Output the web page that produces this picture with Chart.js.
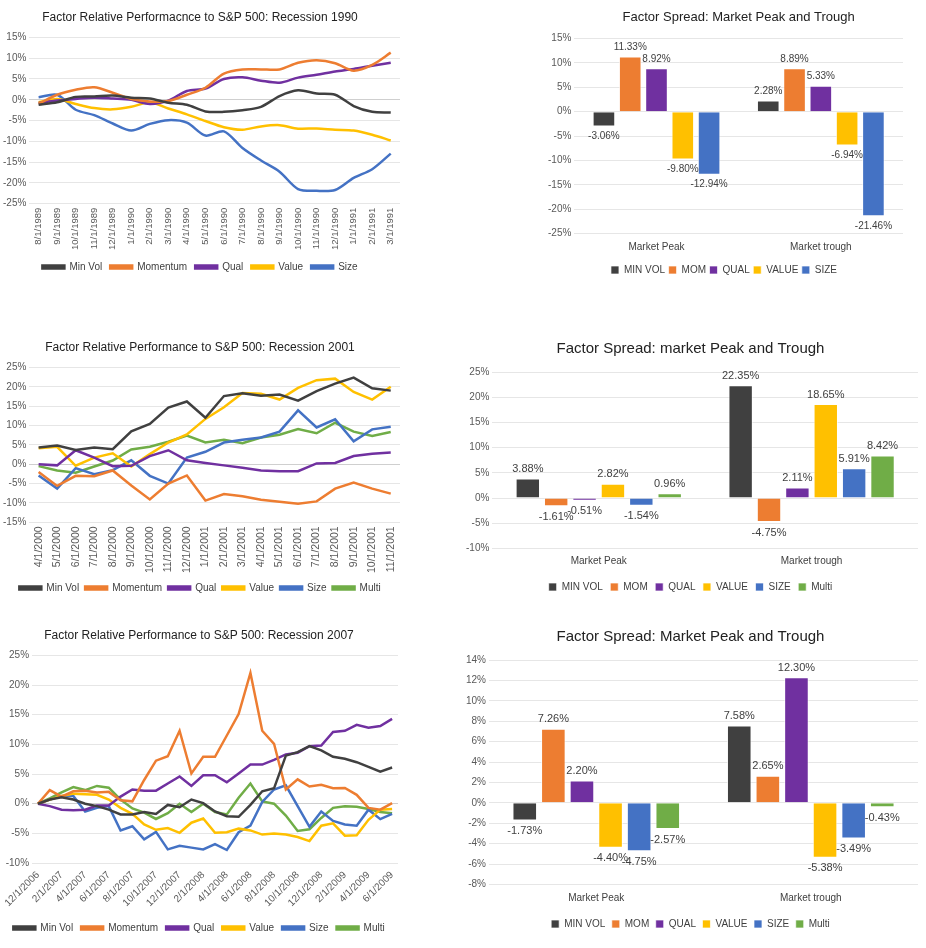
<!DOCTYPE html>
<html>
<head>
<meta charset="utf-8">
<script src="https://cdn.jsdelivr.net/npm/chart.js@4.4.1/dist/chart.umd.min.js"></script>
<style>
  body { margin: 0; background: #fff; }
  .panel { position: absolute; }
</style>
</head>
<body>
<div class="panel" style="left:0;top:0;width:410px;height:285px"><canvas id="line1990"></canvas></div>
<div class="panel" style="left:540px;top:0;width:371px;height:291px"><canvas id="bar1990"></canvas></div>
<div class="panel" style="left:0;top:330px;width:410px;height:275px"><canvas id="line2001"></canvas></div>
<div class="panel" style="left:461px;top:330px;width:465px;height:274px"><canvas id="bar2001"></canvas></div>
<div class="panel" style="left:0;top:618px;width:410px;height:329px"><canvas id="line2007"></canvas></div>
<div class="panel" style="left:461px;top:618px;width:465px;height:325px"><canvas id="bar2007"></canvas></div>
<script>
// ---- data ----
const lineNames = ['Min Vol', 'Momentum', 'Qual', 'Value', 'Size', 'Multi'];
const barNames = ['MIN VOL', 'MOM', 'QUAL', 'VALUE', 'SIZE', 'Multi'];
const spreadCats = ['Market Peak', 'Market trough'];

const dates1990 = ['8/1/1989', '9/1/1989', '10/1/1989', '11/1/1989', '12/1/1989', '1/1/1990', '2/1/1990',
  '3/1/1990', '4/1/1990', '5/1/1990', '6/1/1990', '7/1/1990', '8/1/1990', '9/1/1990', '10/1/1990',
  '11/1/1990', '12/1/1990', '1/1/1991', '2/1/1991', '3/1/1991'];
const minVol1990 = [-1.2, -0.6, 0.7, 0.8, 1.0, 0.5, 0.3, -0.7, -1.2, -2.8, -2.9, -2.5, -1.7, 0.9, 2.28, 1.5, 1.2, -1.5, -2.9, -3.06];
const mom1990 = [-1.0, 1.2, 2.4, 3.0, 1.7, 0.2, -0.4, -0.3, 1.2, 2.9, 6.3, 7.3, 7.3, 7.3, 8.89, 9.5, 8.8, 7.0, 8.4, 11.33];
const qual1990 = [-0.8, -0.2, 0.2, 0.5, 0.3, 0.0, -1.0, -0.2, 2.1, 2.7, 5.0, 5.4, 4.6, 4.1, 5.33, 6.0, 6.8, 7.4, 8.2, 8.92];
const value1990 = [-0.6, 0.2, -1.0, -2.0, -2.3, -1.7, -0.6, -2.1, -3.5, -5.1, -6.6, -7.2, -6.4, -6.1, -6.94, -6.9, -7.2, -7.4, -8.4, -9.80];
const size1990 = [0.6, 1.2, -2.4, -3.7, -5.7, -7.4, -5.8, -4.9, -5.5, -8.6, -7.6, -11.6, -14.6, -17.3, -21.46, -21.9, -21.7, -18.8, -16.7, -12.94];

const dates2001 = ['4/1/2000', '5/1/2000', '6/1/2000', '7/1/2000', '8/1/2000', '9/1/2000', '10/1/2000',
  '11/1/2000', '12/1/2000', '1/1/2001', '2/1/2001', '3/1/2001', '4/1/2001', '5/1/2001', '6/1/2001',
  '7/1/2001', '8/1/2001', '9/1/2001', '10/1/2001', '11/1/2001'];
const minVol2001 = [4.3, 4.8, 3.7, 4.3, 3.88, 8.5, 10.4, 14.6, 16.2, 12.0, 17.6, 18.3, 17.7, 18.0, 16.4, 18.9, 20.8, 22.35, 19.6, 19.0];
const mom2001 = [-2.0, -5.6, -3.0, -3.1, -1.61, -5.5, -9.1, -5.0, -2.9, -9.4, -7.7, -8.3, -9.2, -9.7, -10.2, -9.6, -6.3, -4.75, -6.3, -7.6];
const qual2001 = [0.0, -0.3, 3.6, 1.7, -0.51, -0.4, 2.1, 3.6, 1.0, 0.3, -0.3, -0.9, -1.6, -1.8, -1.8, 0.2, 0.3, 2.11, 2.7, 3.0];
const value2001 = [4.1, 4.5, -0.4, 1.7, 2.82, -0.6, 2.6, 5.6, 7.7, 11.7, 14.7, 18.4, 18.2, 16.7, 19.7, 21.7, 22.1, 18.65, 16.7, 20.0];
const size2001 = [-2.9, -6.3, -1.0, -2.6, -1.54, 1.0, -3.0, -5.0, 1.7, 3.2, 5.6, 6.3, 6.9, 8.4, 13.9, 9.5, 11.6, 5.91, 9.0, 9.7];
const multi2001 = [-0.5, -1.6, -2.2, -0.6, 0.96, 3.8, 4.5, 5.8, 7.4, 5.6, 6.3, 5.4, 6.9, 7.6, 9.1, 8.0, 10.7, 8.42, 7.3, 8.3];

const dates2007 = ['12/1/2006', '1/1/2007', '2/1/2007', '3/1/2007', '4/1/2007', '5/1/2007', '6/1/2007',
  '7/1/2007', '8/1/2007', '9/1/2007', '10/1/2007', '11/1/2007', '12/1/2007', '1/1/2008', '2/1/2008',
  '3/1/2008', '4/1/2008', '5/1/2008', '6/1/2008', '7/1/2008', '8/1/2008', '9/1/2008', '10/1/2008',
  '11/1/2008', '12/1/2008', '1/1/2009', '2/1/2009', '3/1/2009', '4/1/2009', '5/1/2009', '6/1/2009'];
const minVol2007 = [0, 0.7, 1.1, 0.7, 0, -0.4, -1.0, -1.8, -1.8, -1.4, -1.73, -0.2, -0.6, 0.7, 0.1, -1.3, -2.1, -2.2, -0.2, 2.1, 2.6, 8.1, 8.7, 9.7, 9.0, 7.9, 7.58, 7.0, 6.2, 5.4, 6.1];
const mom2007 = [0, 2.3, 1.2, 2.1, 2.2, 1.9, 2.0, 0.6, 0.4, 4.0, 7.26, 8.0, 12.3, 5.1, 7.9, 7.9, 11.5, 15.1, 22.05, 12.3, 10.1, 2.4, 4.1, 2.9, 3.2, 2.6, 2.65, 1.5, -0.7, -1.0, 0.1];
const qual2007 = [0, -0.4, -1.0, -1.1, -1.0, -0.3, -0.3, 1.2, 2.4, 2.2, 2.20, 3.4, 4.6, 3.0, 4.8, 4.8, 3.6, 5.1, 6.6, 6.6, 7.4, 8.3, 8.6, 9.7, 9.8, 12.1, 12.30, 13.3, 12.8, 13.1, 14.3];
const value2007 = [0, 0.7, 1.3, 1.7, 1.6, 1.5, 0.7, -0.7, -1.7, -3.5, -4.40, -4.1, -4.9, -3.2, -2.5, -4.9, -4.8, -4.2, -4.5, -5.2, -5.0, -5.2, -5.6, -6.3, -3.7, -3.3, -5.38, -5.3, -2.7, -1.0, -0.9];
const size2007 = [0, 0.7, 1.3, 1.3, -1.3, -0.7, -0.4, -4.5, -3.8, -6.0, -4.75, -7.7, -7.1, -7.4, -7.7, -6.8, -7.8, -4.8, -3.7, 0.3, 2.4, 3.1, -0.4, -3.9, -1.3, -2.9, -3.49, -3.7, -1.0, -2.6, -1.7];
const multi2007 = [0, 0.9, 1.9, 2.8, 2.3, 3.0, 2.7, 0.7, -0.8, -1.5, -2.57, -1.6, 0, -1.4, 0, -1.4, -1.8, 1.0, 3.4, 0.4, 0.0, -2.0, -4.6, -4.3, -2.4, -0.7, -0.43, -0.5, -0.9, -1.4, -1.6];

const spread1990Peak = [-3.06, 11.33, 8.92, -9.80, -12.94];
const spread1990Trough = [2.28, 8.89, 5.33, -6.94, -21.46];
const spread2001Peak = [3.88, -1.61, -0.51, 2.82, -1.54, 0.96];
const spread2001Trough = [22.35, -4.75, 2.11, 18.65, 5.91, 8.42];
const spread2007Peak = [-1.73, 7.26, 2.20, -4.40, -4.75, -2.57];
const spread2007Trough = [7.58, 2.65, 12.30, -5.38, -3.49, -0.43];

const factorColors = ['#404040', '#ED7D31', '#7030A0', '#FFC000', '#4472C4', '#70AD47'];

// ---- shared look ----
const FONT = "'Liberation Sans', Arial, sans-serif";
Chart.defaults.font.family = FONT;
Chart.defaults.color = '#404040';
Chart.defaults.animation = false;

const pct = v => v + '%';

// value labels above / below each bar
const barLabels = {
    id: 'barLabels',
    afterDatasetsDraw(chart, args, opts) {
        const ctx = chart.ctx;
        ctx.save();
        ctx.font = (opts.size || 10) + 'px ' + FONT;
        ctx.fillStyle = '#404040';
        ctx.textAlign = 'center';
        chart.data.datasets.forEach((ds, i) => {
            chart.getDatasetMeta(i).data.forEach((bar, j) => {
                const v = ds.data[j];
                const txt = v.toFixed(2) + '%';
                if (v >= 0) {
                    ctx.textBaseline = 'bottom';
                    ctx.fillText(txt, bar.x, bar.y - 4);
                } else {
                    ctx.textBaseline = 'top';
                    ctx.fillText(txt, bar.x, bar.y + 5);
                }
            });
        });
        ctx.restore();
    }
};

function lineChart(id, title, titleSize, labels, series, yMin, yMax, opts) {
    const datasets = series.map((s, i) => ({
        label: lineNames[i],
        data: s,
        borderColor: factorColors[i],
        backgroundColor: factorColors[i],
        borderWidth: 2.5,
        pointRadius: 0,
        tension: opts.tension || 0,
        fill: false
    }));
    return new Chart(document.getElementById(id), {
        type: 'line',
        data: { labels: labels, datasets: datasets },
        options: {
            responsive: true,
            maintainAspectRatio: false,
            layout: { padding: opts.padding },
            plugins: {
                title: {
                    display: true, text: title, color: '#222',
                    font: { size: titleSize, weight: 'normal' },
                    padding: { top: 10, bottom: 13 }
                },
                legend: {
                    position: 'bottom',
                    labels: { boxWidth: 22, boxHeight: 3, padding: opts.legendPad, font: { size: 10 }, color: '#404040' }
                },
                tooltip: { enabled: false }
            },
            scales: {
                x: {
                    offset: true,
                    grid: { display: false, drawTicks: false },
                    border: { display: false },
                    ticks: {
                        autoSkip: false,
                        minRotation: opts.rotation, maxRotation: opts.rotation,
                        font: { size: opts.xFont }, color: '#595959', padding: opts.xPad,
                        callback: function(v, i) {
                            return (opts.every && i % opts.every) ? '' : this.getLabelForValue(v);
                        }
                    }
                },
                y: {
                    min: yMin, max: yMax,
                    ticks: { stepSize: 5, callback: pct, font: { size: 10 }, color: '#595959', padding: 3 },
                    grid: {
                        drawTicks: false,
                        color: ctx => ctx.tick && ctx.tick.value === 0 ? '#cfcfcf' : '#e6e6e6'
                    },
                    border: { display: false }
                }
            }
        }
    });
}

function barChart(id, title, titleSize, peak, trough, yMin, yMax, step, opts) {
    const datasets = peak.map((p, i) => ({
        label: barNames[i],
        data: [p, trough[i]],
        backgroundColor: factorColors[i],
        borderColor: 'rgba(255,255,255,0.7)',
        borderWidth: 1
    }));
    return new Chart(document.getElementById(id), {
        type: 'bar',
        data: { labels: spreadCats, datasets: datasets },
        plugins: [barLabels],
        options: {
            responsive: true,
            maintainAspectRatio: false,
            layout: { padding: opts.padding },
            datasets: { bar: { categoryPercentage: 0.8, barPercentage: opts.barPct } },
            plugins: {
                title: {
                    display: true, text: title, color: '#222',
                    fullSize: opts.titleFull,
                    font: { size: titleSize, weight: 'normal' },
                    padding: opts.titlePad
                },
                legend: {
                    position: 'bottom',
                    labels: { boxWidth: 8, boxHeight: 8, padding: opts.legendPad, font: { size: 10 }, color: '#404040' }
                },
                tooltip: { enabled: false },
                barLabels: { size: opts.labelSize }
            },
            scales: {
                x: {
                    grid: { display: false, drawTicks: false },
                    border: { display: false },
                    ticks: { font: { size: 10 }, color: '#404040', padding: opts.xPad }
                },
                y: {
                    min: yMin, max: yMax,
                    ticks: { stepSize: step, callback: pct, font: { size: 10 }, color: '#595959', padding: 3 },
                    grid: { drawTicks: false, color: '#e6e6e6' },
                    border: { display: false }
                }
            }
        }
    });
}

// ---- charts ----
lineChart('line1990', 'Factor Relative Performacnce to S&P 500: Recession 1990', 12, dates1990,
    [minVol1990, mom1990, qual1990, value1990, size1990], -25, 15,
    { rotation: 90, tension: 0.3, xFont: 9.5, xPad: 4, legendPad: 8, padding: { left: 0, right: 10, bottom: 3 } });

barChart('bar1990', 'Factor Spread: Market Peak and Trough', 13, spread1990Peak, spread1990Trough,
    -25, 15, 5, { barPct: 0.86, labelSize: 10, titleFull: false, titlePad: { top: 10, bottom: 13 },
    xPad: 8, legendPad: 3.5, padding: { left: 5, right: 8, bottom: 6 } });

lineChart('line2001', 'Factor Relative Performance to S&P 500: Recession 2001', 12, dates2001,
    [minVol2001, mom2001, qual2001, value2001, size2001, multi2001], -15, 25,
    { rotation: 90, xFont: 10.5, xPad: 4, legendPad: 6, padding: { left: 0, right: 10, bottom: 2 } });

barChart('bar2001', 'Factor Spread: market Peak and Trough', 15, spread2001Peak, spread2001Trough,
    -10, 25, 5, { barPct: 0.86, labelSize: 11, titleFull: true, titlePad: { top: 10, bottom: 14 },
    xPad: 7, legendPad: 7.5, padding: { left: 2, right: 8, bottom: 2 } });

lineChart('line2007', 'Factor Relative Performance to S&P 500: Recession 2007', 12, dates2007,
    [minVol2007, mom2007, qual2007, value2007, size2007, multi2007], -10, 25,
    { rotation: 45, every: 2, xFont: 10, xPad: 6, legendPad: 8, padding: { left: 0, right: 12, bottom: 4 } });

barChart('bar2007', 'Factor Spread: Market Peak and Trough', 15, spread2007Peak, spread2007Trough,
    -8, 14, 2, { barPct: 0.86, labelSize: 11, titleFull: true, titlePad: { top: 10, bottom: 14 },
    xPad: 8, legendPad: 6.5, padding: { left: 2, right: 8, bottom: 4 } });
</script>
</body>
</html>
